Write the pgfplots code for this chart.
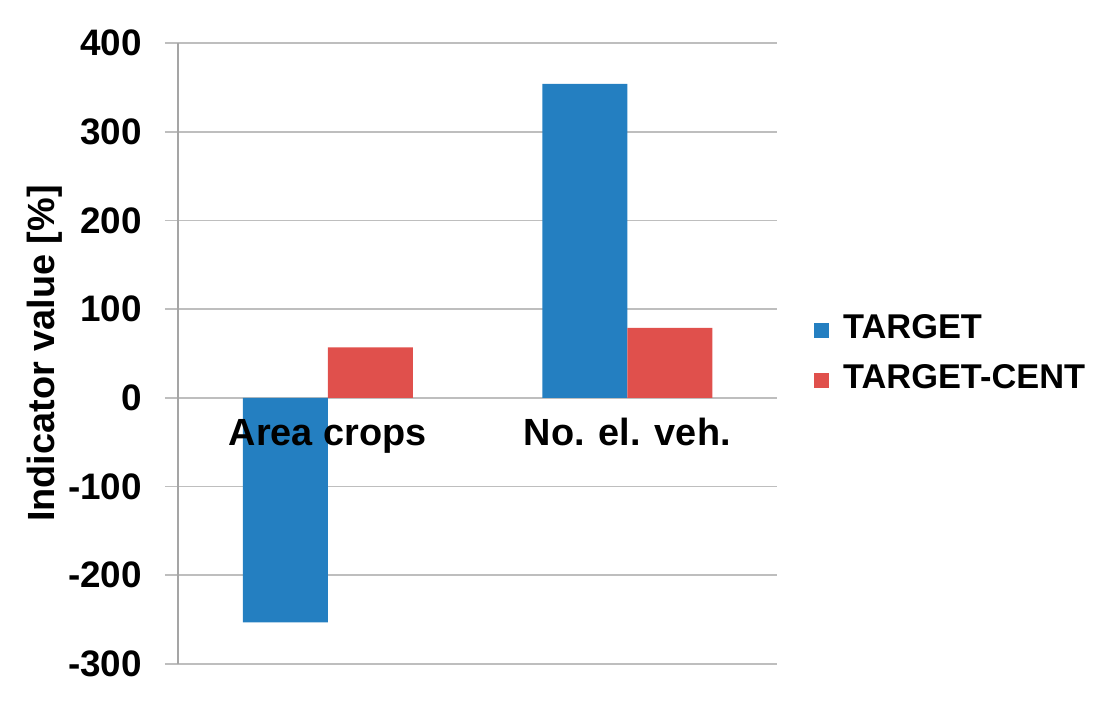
\documentclass[border=0pt]{standalone}
\usepackage{fontspec}
\setmainfont{Liberation Sans}
\usepackage{pgfplots}
\pgfplotsset{compat=1.18}
\definecolor{barblue}{RGB}{36,127,193}
\definecolor{barred}{RGB}{224,80,76}
\definecolor{gridgray}{RGB}{190,190,190}
\definecolor{axgray}{RGB}{165,165,165}
\begin{document}
\begin{tikzpicture}
\useasboundingbox (0,0) rectangle (1111bp,707bp);
\begin{axis}[
  at={(178bp,43bp)}, anchor=south west,
  scale only axis, width=599bp, height=621bp,
  xmin=-0.5, xmax=1.5, ymin=-300, ymax=400,
  ytick={-300,-200,...,400},
  xtick=\empty,
  axis x line=none,
  axis y line*=left,
  y axis line style={draw=axgray, line width=1.6bp, -},
  ymajorgrids,
  major grid style={draw=gridgray, line width=1.6bp},
  tick align=outside,
  major tick length=13bp,
  ytick style={draw=gridgray, line width=1.6bp},
  /pgf/number format/assume math mode=true,
  yticklabel style={font=\fontsize{37}{43}\selectfont\bfseries, anchor=east, inner sep=0pt, xshift=-23bp},
  ylabel={Indicator value [\%]},
  every axis y label/.style={at={(rel axis cs:0,0.5)}, rotate=90, anchor=center, yshift=133bp, font=\fontsize{38}{44}\selectfont\bfseries},
  ybar=0pt, bar width=85bp,
  legend style={at={(1,0.504)}, anchor=west, xshift=37bp, draw=none, fill=none,
    font=\fontsize{34.5}{40}\selectfont\bfseries, inner sep=0pt, row sep=25bp,
    nodes={inner sep=0pt, anchor=west, text height=25bp, text depth=0pt}},
  legend cell align=left,
  legend image code/.code={\fill[#1] (0bp,-12bp) rectangle (15bp,3bp); \path (29bp,0bp);},
]
\addplot[fill=barblue, draw=none] coordinates {(0,-253) (1,354)};
\addlegendentry{TARGET}
\addplot[fill=barred, draw=none] coordinates {(0,57) (1,79)};
\addlegendentry{TARGET-CENT}
\node[anchor=base, font=\fontsize{38}{44}\selectfont\bfseries, inner sep=0pt] at (axis cs:0,0) [yshift=-48bp] {Area crops};
\node[anchor=base, font=\fontsize{38}{44}\selectfont\bfseries, inner sep=0pt] at (axis cs:1,0) [yshift=-48bp] {No. el. veh.};
\end{axis}
\end{tikzpicture}
\end{document}
